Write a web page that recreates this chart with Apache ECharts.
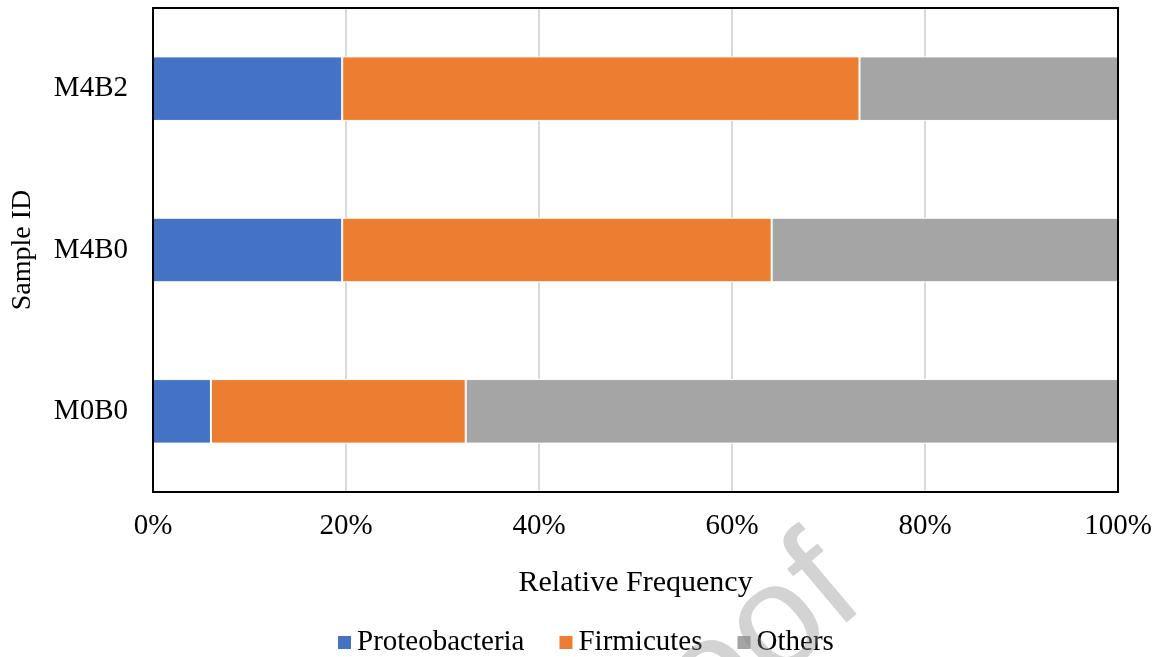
<!DOCTYPE html>
<html>
<head>
<meta charset="utf-8">
<script src="https://cdn.jsdelivr.net/npm/echarts@6/dist/echarts.min.js"></script>
<style>
  html, body { margin: 0; padding: 0; background: #fff; }
  #chart { width: 1155px; height: 657px; }
</style>
</head>
<body>
<div id="chart"></div>
<script>
// Sample IDs (bottom to top) and phylum shares, in percent
const samples = ['M0B0', 'M4B0', 'M4B2'];
const proteobacteria = [6.0, 19.6, 19.6];
const firmicutes = [26.4, 44.5, 53.6];
const others = [67.6, 35.9, 26.8];
const xTicks = [0, 20, 40, 60, 80, 100];

const serif = 'Liberation Serif, Times New Roman, serif';
const colors = { proteobacteria: '#4472c4', firmicutes: '#ed7d31', others: '#a5a5a5' };
const frameLine = { show: true, onZero: false, lineStyle: { color: '#000', width: 2 } };

const chart = echarts.init(document.getElementById('chart'), null, { renderer: 'canvas' });

function barSeries(name, data, color) {
  return {
    name: name,
    type: 'bar',
    stack: 'total',
    data: data,
    z: 2,
    barCategoryGap: '60%',
    itemStyle: { color: color, borderColor: '#ffffff', borderWidth: 1 },
    emphasis: { disabled: true }
  };
}

chart.setOption({
  animation: false,
  backgroundColor: '#ffffff',
  textStyle: { fontFamily: serif },
  grid: { left: 153, right: 36, top: 8, bottom: 165 },
  xAxis: [
    {
      // value axis with gridlines drawn behind the bars
      type: 'value',
      min: xTicks[0],
      max: xTicks[xTicks.length - 1],
      interval: 20,
      z: 0,
      name: 'Relative Frequency',
      nameLocation: 'middle',
      nameGap: 76,
      nameTextStyle: { fontFamily: serif, fontSize: 30, color: '#000' },
      axisLine: frameLine,
      axisTick: { show: false },
      axisLabel: {
        fontFamily: serif, fontSize: 29, color: '#000', margin: 20,
        formatter: v => v + '%'
      },
      splitLine: { show: true, lineStyle: { color: '#d9d9d9', width: 2 } }
    },
    {
      // top edge of the frame
      type: 'value',
      position: 'top',
      min: xTicks[0],
      max: xTicks[xTicks.length - 1],
      interval: 20,
      z: 10,
      axisLine: frameLine,
      axisTick: { show: false },
      axisLabel: { show: false },
      splitLine: { show: false }
    }
  ],
  yAxis: [
    {
      type: 'category',
      data: samples,
      z: 10,
      name: 'Sample ID',
      nameLocation: 'middle',
      nameGap: 116,
      nameTextStyle: { fontFamily: serif, fontSize: 28, color: '#000' },
      axisLine: frameLine,
      axisTick: { show: false },
      axisLabel: { fontFamily: serif, fontSize: 29, color: '#000', margin: 25 },
      splitLine: { show: false }
    },
    {
      // right edge of the frame
      type: 'category',
      data: samples,
      position: 'right',
      z: 10,
      axisLine: frameLine,
      axisTick: { show: false },
      axisLabel: { show: false },
      splitLine: { show: false }
    }
  ],
  legend: {
    top: 628,
    left: 336,
    padding: 0,
    icon: 'rect',
    itemWidth: 15,
    itemHeight: 15,
    itemGap: 33,
    textStyle: { fontFamily: serif, fontSize: 29, color: '#000' },
    data: ['Proteobacteria', 'Firmicutes', 'Others']
  },
  graphic: [
    {
      type: 'text',
      x: 890,
      y: 630,
      rotation: 0.7,
      z: 100,
      silent: true,
      style: {
        text: 'Journal Pre-proof',
        fontFamily: 'Liberation Sans, Arial, sans-serif',
        fontSize: 150,
        fill: 'rgba(140,140,140,0.38)',
        align: 'right',
        verticalAlign: 'bottom'
      }
    }
  ],
  series: [
    barSeries('Proteobacteria', proteobacteria, colors.proteobacteria),
    barSeries('Firmicutes', firmicutes, colors.firmicutes),
    barSeries('Others', others, colors.others)
  ]
});
</script>
</body>
</html>
